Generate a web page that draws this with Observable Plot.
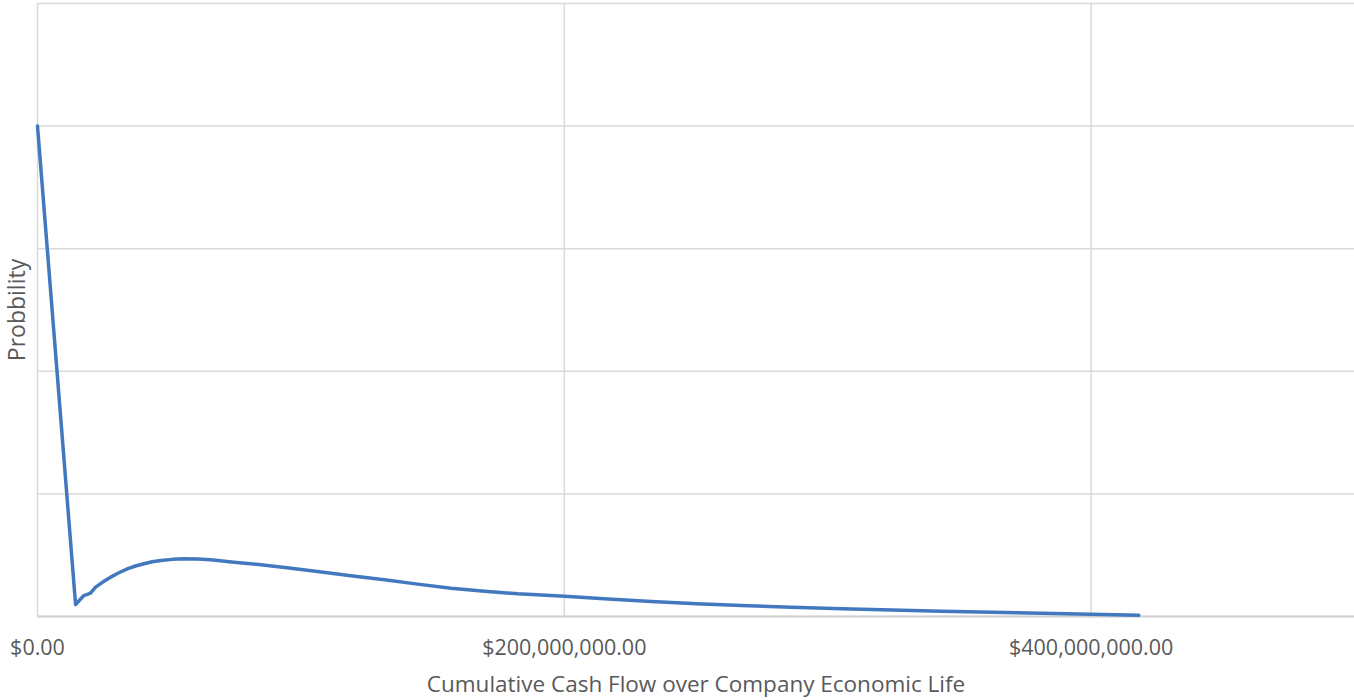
<!DOCTYPE html>
<html>
<head>
<meta charset="utf-8">
<script src="https://cdn.jsdelivr.net/npm/d3@7"></script>
<script src="https://cdn.jsdelivr.net/npm/@observablehq/plot@0.6"></script>
<style>
  html, body { margin: 0; padding: 0; background: #fff; }
  #chart { width: 1354px; height: 700px; }
</style>
</head>
<body>
<div id="chart"></div>
<script>
// Cumulative cash flow (USD) sampled along the distribution curve
const cashFlow = [
  0, 14.45e6, 17.6e6, 20.15e6, 22.05e6, 24.9e6, 27.76e6, 30.9e6, 34.1e6,
  37.2e6, 40.4e6, 43.6e6, 46.8e6, 51.2e6, 55.6e6, 60.7e6, 65.8e6, 74.6e6,
  84.8e6, 95.5e6, 106.3e6, 119.0e6, 131.7e6, 144.3e6, 157.0e6, 169.7e6,
  182.4e6, 200.1e6, 216.6e6, 233.1e6, 250.2e6, 267.3e6, 286.3e6, 305.3e6,
  343.3e6, 381.4e6, 418.1e6
];
// Relative probability at each cash-flow value
const probability = [
  4.0, 0.098, 0.171, 0.190, 0.239, 0.283, 0.321, 0.357, 0.389,
  0.412, 0.430, 0.446, 0.457, 0.466, 0.471, 0.469, 0.462, 0.443,
  0.422, 0.395, 0.367, 0.333, 0.299, 0.264, 0.231, 0.206,
  0.185, 0.166, 0.143, 0.122, 0.105, 0.090, 0.076, 0.063,
  0.043, 0.027, 0.011
];
const xTicks = [0, 200e6, 400e6];
const yTicks = [0, 1, 2, 3, 4, 5];

const points = cashFlow.map((x, i) => ({x, y: probability[i]}));
const money = d3.format("$,.2f");

const chart = Plot.plot({
  width: 1354,
  height: 700,
  marginLeft: 37,
  marginRight: 0,
  marginTop: 3,
  marginBottom: 84,
  style: {fontFamily: "'Open Sans', sans-serif", fontSize: "21.5px", color: "#595959", background: "#fff"},
  x: {domain: [0, 500e6]},
  y: {domain: [0, 5]},
  marks: [
    Plot.gridY({ticks: yTicks, stroke: "#d9d9d9", strokeOpacity: 1, strokeWidth: 1.5}),
    Plot.gridX({ticks: xTicks, stroke: "#d9d9d9", strokeOpacity: 1, strokeWidth: 1.5}),
    Plot.ruleY([0], {stroke: "#d0d0d0", strokeWidth: 2}),
    Plot.axisX({
      ticks: xTicks, tickFormat: money, tickSize: 0, tickPadding: 23,
      label: null, fill: "#595959"
    }),
    Plot.axisX({
      ticks: [], tickSize: 0,
      label: "Cumulative Cash Flow over Company Economic Life", labelArrow: "none",
      labelAnchor: "center", labelOffset: 75, fill: "#595959", fontSize: 22.5
    }),
    Plot.axisY({
      ticks: yTicks, tickFormat: () => "", tickSize: 0,
      label: "Probbility", labelArrow: "none", labelAnchor: "center", labelOffset: 29,
      fill: "#595959", fontSize: 23
    }),
    Plot.line(points, {x: "x", y: "y", stroke: "#4178be", strokeWidth: 3.5, strokeLinejoin: "round", curve: "linear"})
  ]
});
document.getElementById("chart").appendChild(chart);
</script>
</body>
</html>
